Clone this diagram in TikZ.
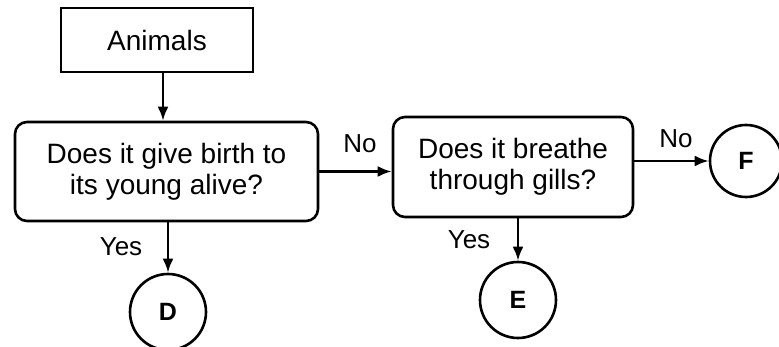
\documentclass[tikz,border=0pt]{standalone}
\usepackage{fontspec}
\setmainfont{Liberation Sans}
\usetikzlibrary{arrows.meta,calc}
\begin{document}
\begin{tikzpicture}[x=1pt,y=-1pt,
  every node/.style={font=\fontsize{28}{31}\selectfont},
  plainbox/.style={draw,line width=2.6pt,inner sep=0pt,minimum width=192pt,minimum height=64pt},
  qbox/.style={draw,line width=2.6pt,rounded corners=12pt,inner sep=0pt,align=center},
  endc/.style={draw,circle,line width=2.6pt,inner sep=0pt,minimum size=76pt,font=\fontsize{25}{28}\selectfont\bfseries},
  arr/.style={line width=2.6pt,-{Latex[length=14pt,width=11pt]}},
  lbl/.style={font=\fontsize{26}{30}\selectfont}]
\useasboundingbox (0,0) rectangle (779,347);
\node[plainbox] (anim) at (157,40) {Animals};
\node[qbox,minimum width=303pt,minimum height=99pt] (q1) at (166.5,171.5) {Does it give birth to\\its young alive?};
\node[qbox,minimum width=240pt,minimum height=100pt] (q2) at (513,167) {Does it breathe\\through gills?};
\node[endc,minimum size=72pt] (F) at (746,161) {F};
\node[endc] (D) at (168,312) {D};
\node[endc] (E) at (518,300) {E};
\coordinate (aS) at ($(anim.south)+(6,0)$);
\draw[arr] (aS) -- (aS |- q1.north);
\draw[arr] (q1.east) -- (q1.east -| q2.west);
\draw[arr] (q2.east |- F.west) -- (F.west);
\draw[arr] (q1.south -| D.north) -- (D.north);
\draw[arr] (q2.south -| E.north) -- (E.north);
\node[lbl] (no1) at (360,144) {No};
\node[lbl] (no2) at (676,139) {No};
\node[lbl] (yes1) at (121,247) {Yes};
\node[lbl] (yes2) at (469,240) {Yes};
\end{tikzpicture}
\end{document}
